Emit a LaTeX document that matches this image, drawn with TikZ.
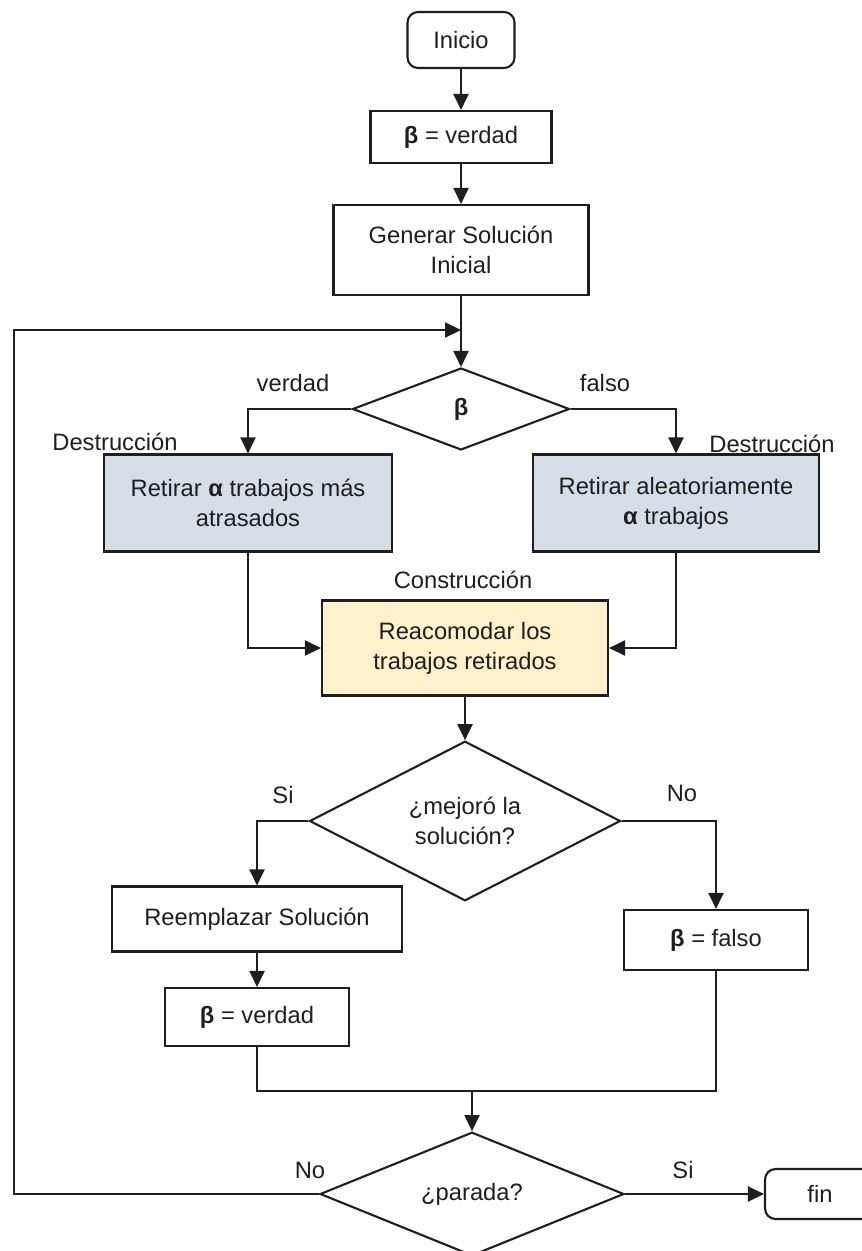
\documentclass[tikz,border=0pt]{standalone}
\usepackage{fontspec}
\setmainfont{Liberation Sans}
\usetikzlibrary{arrows.meta, shapes.geometric}
\definecolor{grisazul}{HTML}{D7DDE6}
\definecolor{amarillo}{HTML}{FEF1CB}
\definecolor{tinta}{HTML}{1E1E1E}
\tikzstyle{caja} = [rectangle, draw=tinta, line width=1.2pt, text centered, align=center, inner sep=2pt]
\tikzstyle{term} = [caja, rounded corners=6pt]
\tikzstyle{decision} = [diamond, draw=tinta, line width=1.2pt, text centered, align=center, inner sep=0pt]
\tikzstyle{etiq} = [text=tinta]
\tikzstyle{flecha} = [draw=tinta, line width=1.2pt, -{Triangle[length=0.32cm,width=0.3cm]}]
\tikzstyle{linea} = [draw=tinta, line width=1.2pt]

\begin{document}
\begin{tikzpicture}[x=0.02cm, y=-0.02cm, font=\fontsize{13.5}{17}\selectfont, text=tinta]
		\useasboundingbox (0,0) rectangle (862,1251);
		% columna principal
		\node [term, minimum width=2.14cm, minimum height=1.12cm] (inicio) at (461,40) {Inicio};
		\node [caja, minimum width=3.62cm, minimum height=1.04cm] (beta1) at (461,137) {\textbf{β} = verdad};
		\node [caja, minimum width=5.1cm, minimum height=1.8cm] (gen) at (461,250) {Generar Solución\\Inicial};
		\coordinate (entrada) at (461,330);
		\coordinate (izq) at (14,330);
		\node [decision, minimum width=4.34cm, minimum height=1.64cm] (beta) at (461,409) {\textbf{β}};
		%	destruccion
		\node [caja, fill=grisazul, minimum width=5.76cm, minimum height=1.94cm] (dest1) at (248,503) {Retirar \textbf{α} trabajos más\\atrasados};
		\node [caja, fill=grisazul, minimum width=5.72cm, minimum height=1.94cm] (dest2) at (676,503) {Retirar aleatoriamente\\\textbf{α} trabajos};
		% construccion
		\node [caja, fill=amarillo, minimum width=5.72cm, minimum height=1.9cm] (reac) at (465,648) {Reacomodar los\\trabajos retirados};
		\node [decision, minimum width=6.22cm, minimum height=2.8cm] (mejoro) at (465,821) {¿mejoró la\\solución?};
		\node [caja, minimum width=5.8cm, minimum height=1.3cm] (reem) at (257,919) {Reemplazar Solución};
		\node [caja, minimum width=3.68cm, minimum height=1.16cm] (beta2) at (257,1017) {\textbf{β} = verdad};
		\node [caja, minimum width=3.68cm, minimum height=1.2cm] (falso) at (716,940) {\textbf{β} = falso};
		\coordinate (junta) at (472,1091);
		\node [decision, minimum width=6.08cm, minimum height=2.2cm] (parada) at (472,1194) {¿parada?};
		\node [term, minimum width=2.2cm, minimum height=1.0cm] (fin) at (820,1194) {fin};
		% etiquetas
		\node [etiq] (lverdad) at (293,383) {verdad};
		\node [etiq] (lfalso) at (605,383) {falso};
		\node [etiq] (ldest1) at (115,442) {Destrucción};
		\node [etiq] (ldest2) at (772,444) {Destrucción};
		\node [etiq] (lcons) at (463,580) {Construcción};
		\node [etiq] (lsi1) at (283,795) {Si};
		\node [etiq] (lno1) at (682,793) {No};
		\node [etiq] (lno2) at (310,1170) {No};
		\node [etiq] (lsi2) at (683,1170) {Si};
		% conectores
		\draw [flecha] (inicio) -- (beta1);
		\draw [flecha] (beta1) -- (gen);
		\draw [flecha] (gen) -- (beta);
		\draw [flecha] (parada.west) -| (izq) -- (entrada);
		\draw [flecha] (beta.west) -| (dest1.north);
		\draw [flecha] (beta.east) -| (dest2.north);
		\draw [flecha] (dest1.south) |- (reac.west);
		\draw [flecha] (dest2.south) |- (reac.east);
		\draw [flecha] (reac) -- (mejoro);
		\draw [flecha] (mejoro.west) -| (reem.north);
		\draw [flecha] (mejoro.east) -| (falso.north);
		\draw [flecha] (reem) -- (beta2);
		\draw [linea] (beta2.south) |- (falso.south |- junta) -- (falso.south);
		\draw [flecha] (junta) -- (parada.north);
		\draw [flecha] (parada.east) -- (fin.west);
		\end{tikzpicture}
\end{document}
